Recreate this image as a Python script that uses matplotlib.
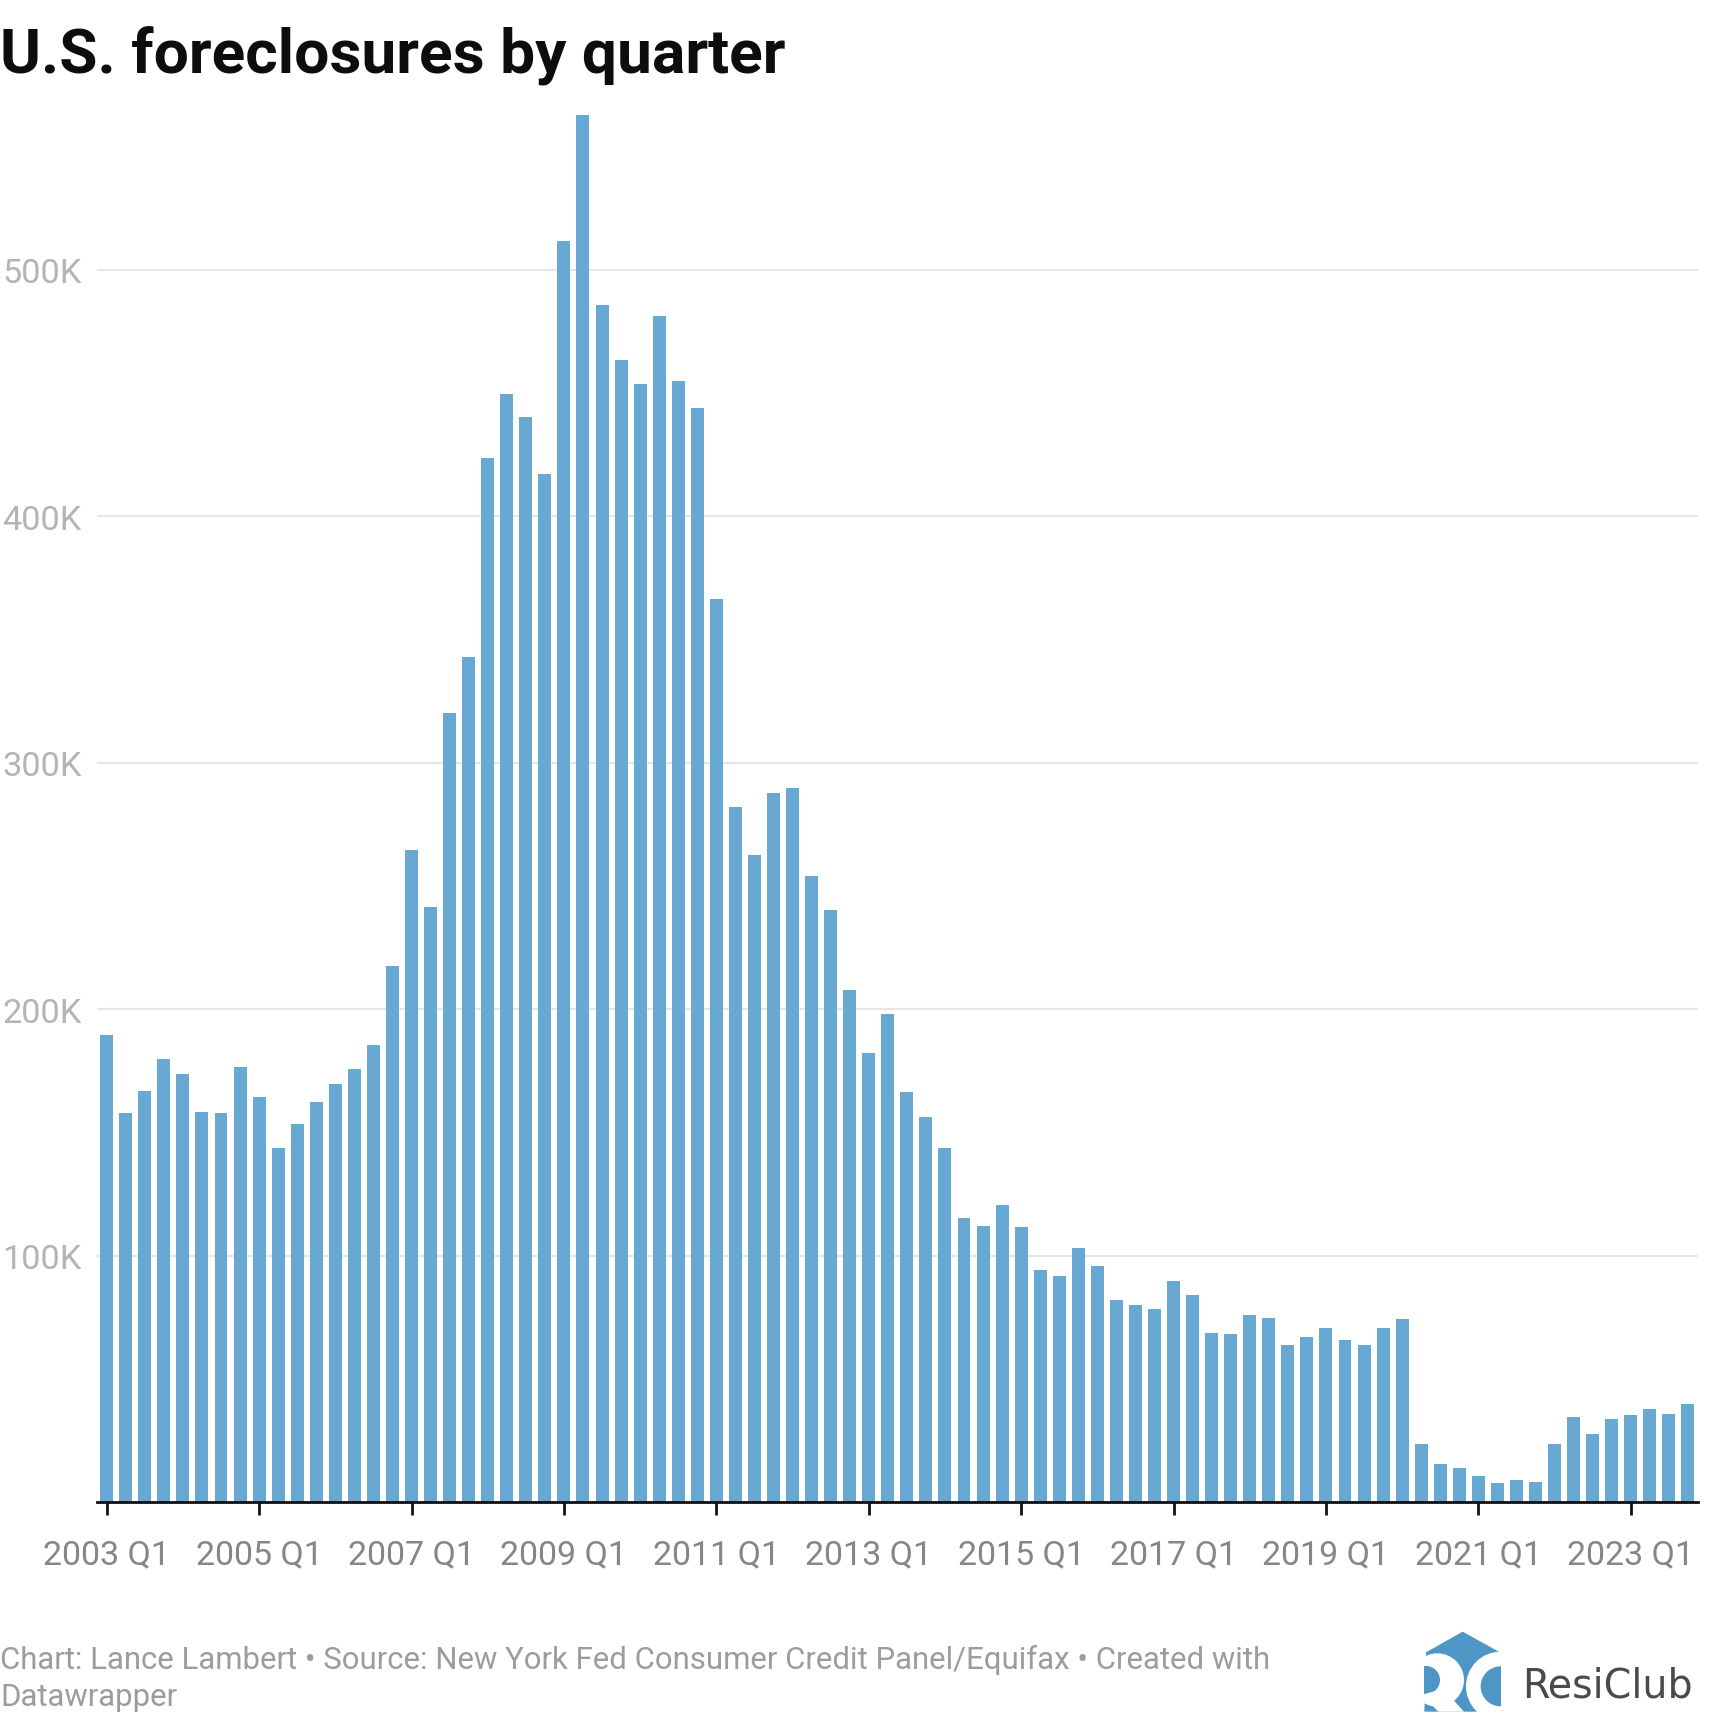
import numpy as np
import matplotlib
matplotlib.use('Agg')
import matplotlib.pyplot as plt
from matplotlib.patches import Polygon, Circle, Rectangle

# foreclosures per quarter, thousands
VALUES = [
    189.6, 158.0, 166.9, 179.8,
    173.6, 158.4, 158.0, 176.3,
    164.2, 143.7, 153.5, 162.4,
    169.6, 175.8, 185.6, 217.3,
    264.6, 241.4, 319.9, 342.7,
    423.5, 449.4, 440.0, 417.2,
    511.4, 562.7, 485.5, 463.2,
    453.4, 481.0, 454.7, 444.0,
    366.4, 282.0, 262.4, 287.8,
    289.6, 253.9, 240.1, 207.9,
    182.1, 198.1, 166.4, 156.2,
    143.7, 115.1, 112.0, 120.5,
    111.6, 94.2, 91.5, 103.1,
    95.9, 82.1, 79.9, 78.1,
    89.7, 83.9, 68.7, 68.3,
    75.9, 74.5, 63.8, 66.9,
    70.5, 65.6, 63.8, 70.5,
    74.1, 23.6, 15.6, 13.8,
    10.7, 7.6, 8.9, 8.0,
    23.6, 34.4, 27.7, 33.5,
    35.3, 37.9, 35.7, 39.7,
]
YEARS = list(range(2003, 2024))
QUARTERS = [str(y) + ' Q' + str(q) for y in YEARS for q in (1, 2, 3, 4)]
Y_TICKS = [100, 200, 300, 400, 500]
Y_LABELS = ['100K', '200K', '300K', '400K', '500K']
X_LABELS = [str(y) + ' Q1' for y in YEARS[::2]]

TITLE = 'U.S. foreclosures by quarter'
FOOT1 = 'Chart: Lance Lambert • Source: New York Fed Consumer Credit Panel/Equifax • Created with'
FOOT2 = 'Datawrapper'

W, H = 1720, 1724
BAR = '#67a9d3'
LOGO = '#4d96c5'

plt.rcParams['font.family'] = ['Roboto', 'DejaVu Sans']

fig = plt.figure(figsize=(W / 100, H / 100), dpi=100, facecolor='white')

# axes placed in pixels: left 97, right 1698, top 116, baseline 1503
ax = fig.add_axes([97 / W, 1 - 1503 / H, (1698 - 97) / W, (1503 - 116) / H])
ax.bar(QUARTERS, VALUES, width=0.68, color=BAR, zorder=3)
ax.set_xlim(-0.51, 83.53)
ax.set_ylim(0, max(VALUES))

ax.set_yticks(Y_TICKS)
ax.set_yticklabels(Y_LABELS, ha='left', color='#b4b4b4', fontsize=24.7)
ax.tick_params(axis='y', length=0, pad=68.4)
ax.grid(axis='y', color='#e6e6e6', lw=1.5, zorder=0)
ax.set_axisbelow(True)

ax.set_xticks(np.arange(0, len(VALUES), 8))
ax.set_xticklabels(X_LABELS, color='#868686', fontsize=24.5)
ax.tick_params(axis='x', length=9, width=2, color='#111111', pad=17)

for s in ['top', 'left', 'right']:
    ax.spines[s].set_visible(False)
ax.spines['bottom'].set_color('#111111')
ax.spines['bottom'].set_linewidth(2)
ax.spines['bottom'].set_zorder(5)

fig.text(0, 1 - 73 / H, TITLE, fontsize=44.8, fontweight='bold', color='#0d0d0d', va='baseline')
fig.text(0, 1 - 1669.5 / H, FOOT1, fontsize=22.4, color='#9c9c9c', va='baseline')
fig.text(0, 1 - 1706.5 / H, FOOT2, fontsize=22.4, color='#9c9c9c', va='baseline')

# logo, coordinates are pixels of the figure
lg = fig.add_axes([0, 0, 1, 1], zorder=10)
lg.set_xlim(0, W)
lg.set_ylim(H, 0)
lg.axis('off')
lg.patch.set_alpha(0)

def px(x, y):
    return (1380 + x / 3, 1600 + y / 3)

lg.add_patch(Polygon([px(138, 160), px(248, 98), px(360, 160), px(363, 338), px(133, 338)],
                     closed=True, color=LOGO, lw=0))
# R
lg.add_patch(Circle(px(172, 243), 80 / 3, color='white', lw=0))
lg.add_patch(Rectangle(px(92, 160), 41 / 3, 180 / 3, color='white', lw=0))
lg.add_patch(Polygon([px(133, 200), px(140, 200), px(140, 285), px(133, 285)], closed=True, color=LOGO, lw=0))
lg.add_patch(Circle(px(138, 243), 42 / 3, color=LOGO, lw=0))
lg.add_patch(Rectangle(px(92, 195), 41 / 3, 100 / 3, color='white', lw=0))
lg.add_patch(Polygon([px(133, 285), px(190, 270), px(252, 338), px(175, 338), px(133, 295)],
                     closed=True, color='white', lw=0))
# C
lg.add_patch(Circle(px(362, 262), 104 / 3, color='white', lw=0))
lg.add_patch(Circle(px(362, 262), 60 / 3, color=LOGO, lw=0))
lg.add_patch(Rectangle(px(363, 150), 100 / 3, 200 / 3, color='white', lw=0))
lg.add_patch(Rectangle(px(100, 338), 300 / 3, 30 / 3, color='white', lw=0))
lg.text(1522, 1698, 'ResiClub', fontsize=28.5, family=['DejaVu Sans'], color='#4a4a4a', va='baseline')

fig.savefig('out.png', dpi=100)
